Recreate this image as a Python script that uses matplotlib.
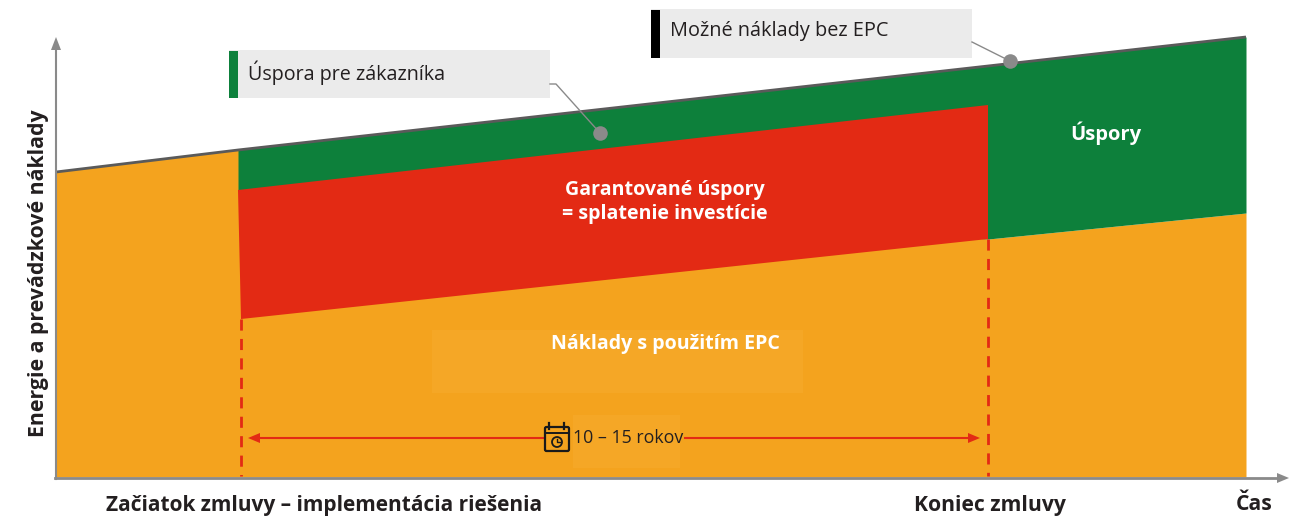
import matplotlib
matplotlib.use("Agg")
import matplotlib.pyplot as plt
from matplotlib.patches import Rectangle, Circle, FancyBboxPatch

plt.rcParams["font.family"] = ["Open Sans", "DejaVu Sans"]

# hodnoty odcitane z obrazka (v pixeloch obrazka)
x_cost = [56, 238, 988, 1246]
y_cost_top = [172, 150, 66, 37]

x_red = [238, 988, 988, 241]
y_red = [190, 105, 239, 319]

x_green = [238, 988, 1246]
y_green_top = [150, 66, 37]
y_green_bottom = [190, 239, 213]

x_orange = [56, 238, 988, 1246]
y_orange_top = [172, 150, 239, 213]

x_base = 478

ORANGE = "#f4a31e"
GREEN = "#0d803b"
RED = "#e32a14"
DARK = "#231f20"
GRAY = "#8a8a8a"

fig = plt.figure(figsize=(12.97, 5.17), dpi=100)
ax = fig.add_axes([0, 0, 1, 1])
ax.set_xlim(0, 1297)
ax.set_ylim(517, 0)
ax.axis("off")

# plochy
ax.fill_between(x_orange, y_orange_top, x_base - 1, color=ORANGE, lw=0, zorder=1)
ax.fill_between(x_green, y_green_top, y_green_bottom, color=GREEN, lw=0, zorder=2)
ax.fill(x_red, y_red, color=RED, lw=0, zorder=3)

# horna ciara
ax.plot(x_cost, y_cost_top, color="#5a5a5a", lw=2, zorder=4, solid_capstyle="butt")

# osi
ax.plot([56, 56], [479, 46], color=GRAY, lw=1.5, zorder=5)
ax.plot([55, 1280], [478, 478], color=GRAY, lw=2, zorder=5)
ax.fill([51, 56, 61], [50, 37, 50], color=GRAY, lw=0, zorder=5)
ax.fill([1277, 1289, 1277], [473, 478, 483], color=GRAY, lw=0, zorder=5)

# svetle obdlzniky za textom
ax.add_patch(Rectangle((432, 330), 371, 63, color="#f5a726", lw=0, zorder=2))
ax.add_patch(Rectangle((573, 415), 107, 53, color="#f5a726", lw=0, zorder=2))

# prerusovane ciary
ax.plot([241, 241], [319, 476], color=RED, lw=2, ls=(0, (4, 3)), zorder=4)
ax.plot([988, 988], [239, 476], color=RED, lw=2, ls=(0, (4, 3)), zorder=4)

# sipka trvania
ax.plot([258, 545], [438, 438], color=RED, lw=1.5, zorder=5)
ax.plot([685, 970], [438, 438], color=RED, lw=1.5, zorder=5)
ax.fill([248, 260, 260], [438, 433, 443], color=RED, lw=0, zorder=5)
ax.fill([980, 968, 968], [438, 433, 443], color=RED, lw=0, zorder=5)

# ikona kalendara
ax.add_patch(FancyBboxPatch((545, 427), 24, 24, boxstyle="round,pad=0,rounding_size=1.5",
                            fc=ORANGE, ec="#1a1a1a", lw=1.6, zorder=6))
ax.plot([545, 569], [433, 433], color="#1a1a1a", lw=1.4, zorder=7)
ax.plot([549, 549], [423, 429], color="#1a1a1a", lw=1.6, zorder=7)
ax.plot([564, 564], [423, 429], color="#1a1a1a", lw=1.6, zorder=7)
ax.add_patch(Circle((557, 442), 5, fc="none", ec="#1a1a1a", lw=1.3, zorder=7))
ax.plot([557, 557, 560], [439, 442, 442], color="#1a1a1a", lw=1, zorder=7)

# popisky s rameckom
ax.add_patch(Rectangle((229, 50), 321, 48, color="#ebebeb", lw=0, zorder=2))
ax.add_patch(Rectangle((229, 51), 9, 47, color=GREEN, lw=0, zorder=3))
ax.add_patch(Rectangle((651, 9), 321, 49, color="#ebebeb", lw=0, zorder=2))
ax.add_patch(Rectangle((651, 10), 9, 48, color="black", lw=0, zorder=3))
ax.plot([550, 556, 600], [84, 84, 133], color=GRAY, lw=1, zorder=5)
ax.plot([972, 1010], [42, 61], color=GRAY, lw=1, zorder=5)
ax.scatter([600], [133], s=110, color=GRAY, lw=0, zorder=6)
ax.scatter([1010], [61], s=110, color=GRAY, lw=0, zorder=6)

# texty
ax.text(248, 73, "Úspora pre zákazníka", fontsize=14.2, color=DARK, va="center", zorder=6)
ax.text(670, 31, "Možné náklady bez EPC", fontsize=14.3, color=DARK, va="center", zorder=6)
ax.text(1106, 133, "Úspory", fontsize=14.5, color="white", fontweight="bold", ha="center", va="center", zorder=6)
ax.text(665, 202, "Garantované úspory\n= splatenie investície", fontsize=14.1, color="white",
        fontweight="bold", ha="center", va="center", linespacing=1.3, zorder=6)
ax.text(665, 344, "Náklady s použitím EPC", fontsize=14.1, color="white", fontweight="bold",
        ha="center", va="center", zorder=6)
ax.text(628, 438, "10 – 15 rokov", fontsize=12.8, color=DARK, ha="center", va="center", zorder=6)
ax.text(39, 273, "Energie a prevádzkové náklady", fontsize=15.3, color=DARK, fontweight="bold",
        rotation=90, ha="center", va="center")
ax.text(324, 506, "Začiatok zmluvy – implementácia riešenia", fontsize=15, color=DARK,
        fontweight="bold", ha="center", va="center")
ax.text(990, 506, "Koniec zmluvy", fontsize=15.2, color=DARK, fontweight="bold", ha="center", va="center")
ax.text(1254, 505, "Čas", fontsize=15.2, color=DARK, fontweight="bold", ha="center", va="center")

fig.savefig("out.png", dpi=100)
